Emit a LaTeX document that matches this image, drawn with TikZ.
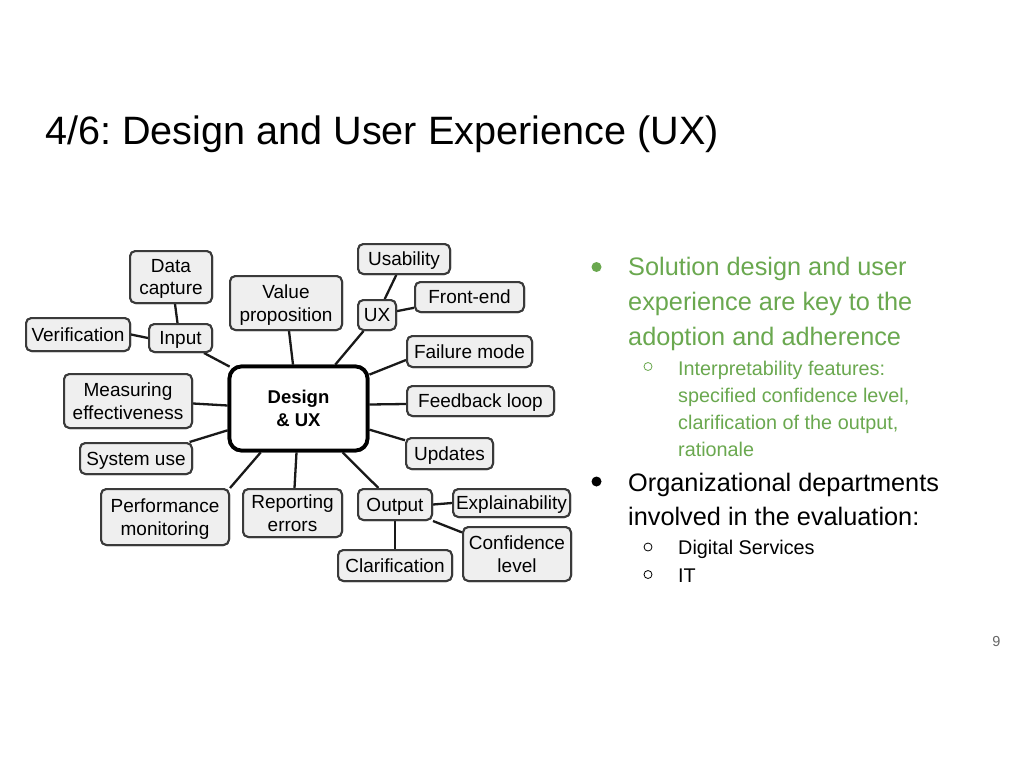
\documentclass[tikz,border=0pt]{standalone}
\usepackage{fontspec}
\setmainfont{Liberation Sans}
\usetikzlibrary{calc}
\definecolor{gtext}{HTML}{6AA84F}
\definecolor{boxfill}{HTML}{EFEFEF}
\definecolor{boxline}{HTML}{3A3A3A}
\definecolor{pnum}{HTML}{666666}
\frenchspacing
\begin{document}
\begin{tikzpicture}[x=1pt,y=-1pt,
  box/.style={draw=boxline,fill=boxfill,line width=2pt,rounded corners=5.5pt,
    inner sep=0pt,font=\fontsize{19}{22.5}\selectfont},
  one/.style={box,text height=13.7pt,text depth=0pt},
  two/.style={box,align=center,text depth=-3pt},
  hub/.style={draw=black,fill=white,line width=3.8pt,rounded corners=12pt,
    inner sep=0pt,align=center,font=\fontsize{18.5}{23}\selectfont\bfseries,
    minimum width=138pt,minimum height=84pt,text depth=-4pt},
  link/.style={line width=2.3pt,black!90},
  maintext/.style={anchor=base west,inner sep=0pt,font=\fontsize{25.3}{35}\selectfont},
  subtext/.style={anchor=base west,inner sep=0pt,font=\fontsize{19.8}{27}\selectfont},
  dotbullet/.style={circle,inner sep=0pt,minimum size=10pt},
  ringbullet/.style={circle,draw,line width=0.8pt,inner sep=0pt,minimum size=8pt}]
\useasboundingbox (0,0) rectangle (1024,768);
\fill[white] (0,0) rectangle (1024,768);

% title
\node[anchor=base west,inner sep=0pt,font=\fontsize{39.6}{46}\selectfont] (title) at (45,144.5) {4/6: Design and User Experience (UX)};

% hub and boxes (named; drawn again after connectors)
\node[hub] (hub) at (298.5,408.5) {Design\\\& UX};
\node[two,minimum width=82pt,minimum height=52pt] (data) at (171,277) {Data\\capture};
\node[one,minimum width=104pt,minimum height=33pt] (verif) at (78,334.5) {Verification};
\node[one,minimum width=63pt,minimum height=28pt] (input) at (180.5,338) {Input};
\node[two,minimum width=112pt,minimum height=54pt] (value) at (286,303) {Value\\proposition};
\node[one,minimum width=92pt,minimum height=30pt] (usab) at (404,259) {Usability};
\node[one,minimum width=38pt,minimum height=30pt] (ux) at (377,315) {UX};
\node[one,minimum width=109pt,minimum height=30pt] (front) at (469.5,297) {Front-end};
\node[one,minimum width=125pt,minimum height=31pt] (fail) at (469.5,351.5) {Failure mode};
\node[one,minimum width=147pt,minimum height=30pt] (feed) at (480.5,401) {Feedback loop};
\node[one,minimum width=87pt,minimum height=31pt] (upd) at (449.5,453.5) {Updates};
\node[two,minimum width=128pt,minimum height=54pt] (meas) at (128,401) {Measuring\\effectiveness};
\node[one,minimum width=112pt,minimum height=31pt] (sys) at (136,458.5) {System use};
\node[two,minimum width=128pt,minimum height=56pt] (perf) at (165,517) {Performance\\monitoring};
\node[two,minimum width=99pt,minimum height=48pt] (rep) at (292.5,513) {Reporting\\errors};
\node[one,minimum width=74pt,minimum height=31pt] (out) at (395,504.5) {Output};
\node[one,minimum width=117pt,minimum height=28pt] (expl) at (511.5,503) {Explainability};
\node[one,minimum width=114pt,minimum height=31pt] (clar) at (395,565.5) {Clarification};
\node[two,minimum width=108pt,minimum height=54pt] (conf) at (517,554) {Confidence\\level};

% connectors
\draw[link] ($(data.south)+(4,0)$) -- ($(input.north)+(-3,0)$);
\draw[link] (verif.east) -- (input.west);
\draw[link] ($(input.south east)+(-9,0)$) -- ($(hub.north west)+(2,2)$);
\draw[link] ($(value.south)+(3,0)$) -- ($(hub.north)+(-5.5,0)$);
\draw[link] (ux) -- (hub);
\draw[link] (ux) -- (usab);
\draw[link] (ux) -- (front);
\draw[link] ($(fail.west)+(0,8.5)$) -- ($(hub.north east)+(0,10)$);
\draw[link] ($(feed.west)+(0,3)$) -- ($(hub.east)+(0,-4)$);
\draw[link] (upd) -- (hub);
\draw[link] ($(meas.east)+(0,2.5)$) -- ($(hub.west)+(0,-3)$);
\draw[link] (sys) -- (hub);
\draw[link] (perf.north east) -- (hub);
\draw[link] ($(rep.north)+(2,0)$) -- ($(hub.south)+(-2,0)$);
\draw[link] (out) -- (hub);
\draw[link] (out.east) -- (expl.west);
\draw[link] (out.south) -- (clar.north);
\draw[link] (out.south east) -- (conf);

% boxes drawn on top of connectors
\node[two,minimum width=82pt,minimum height=52pt] at (data) {Data\\capture};
\node[one,minimum width=104pt,minimum height=33pt] at (verif) {Verification};
\node[one,minimum width=63pt,minimum height=28pt] at (input) {Input};
\node[two,minimum width=112pt,minimum height=54pt] at (value) {Value\\proposition};
\node[one,minimum width=92pt,minimum height=30pt] at (usab) {Usability};
\node[one,minimum width=38pt,minimum height=30pt] at (ux) {UX};
\node[one,minimum width=109pt,minimum height=30pt] at (front) {Front-end};
\node[one,minimum width=125pt,minimum height=31pt] at (fail) {Failure mode};
\node[one,minimum width=147pt,minimum height=30pt] at (feed) {Feedback loop};
\node[one,minimum width=87pt,minimum height=31pt] at (upd) {Updates};
\node[two,minimum width=128pt,minimum height=54pt] at (meas) {Measuring\\effectiveness};
\node[one,minimum width=112pt,minimum height=31pt] at (sys) {System use};
\node[two,minimum width=128pt,minimum height=56pt] at (perf) {Performance\\monitoring};
\node[two,minimum width=99pt,minimum height=48pt] at (rep) {Reporting\\errors};
\node[one,minimum width=74pt,minimum height=31pt] at (out) {Output};
\node[one,minimum width=117pt,minimum height=28pt] at (expl) {Explainability};
\node[one,minimum width=114pt,minimum height=31pt] at (clar) {Clarification};
\node[two,minimum width=108pt,minimum height=54pt] at (conf) {Confidence\\level};
\node[hub] at (hub) {Design\\\& UX};

% right-hand text
\node[dotbullet,fill=gtext] (b1) at (596.5,267) {};
\node[maintext,text=gtext] (t1a) at (628,275) {Solution design and user};
\node[maintext,text=gtext] (t1b) at (628,310) {experience are key to the};
\node[maintext,text=gtext] (t1c) at (628,345) {adoption and adherence};
\node[ringbullet,draw=gtext] (b2) at (648,366.5) {};
\node[subtext,text=gtext] (t2a) at (678,375) {Interpretability features:};
\node[subtext,text=gtext] (t2b) at (678,402) {specified confidence level,};
\node[subtext,text=gtext] (t2c) at (678,429) {clarification of the output,};
\node[subtext,text=gtext] (t2d) at (678,456) {rationale};

\node[dotbullet,fill=black] (b3) at (596.5,481.5) {};
\node[maintext] (t3a) at (628,491) {Organizational departments};
\node[maintext] (t3b) at (628,525.5) {involved in the evaluation:};
\node[ringbullet,draw=black] (b4) at (648,547) {};
\node[subtext] (t4) at (678,554.5) {Digital Services};
\node[ringbullet,draw=black] (b5) at (648,574.5) {};
\node[subtext] (t5) at (678,582) {IT};

\node[anchor=base east,inner sep=0pt,text=pnum,font=\fontsize{14.5}{17}\selectfont] (pn) at (1000.5,646.5) {9};
\end{tikzpicture}
\end{document}
